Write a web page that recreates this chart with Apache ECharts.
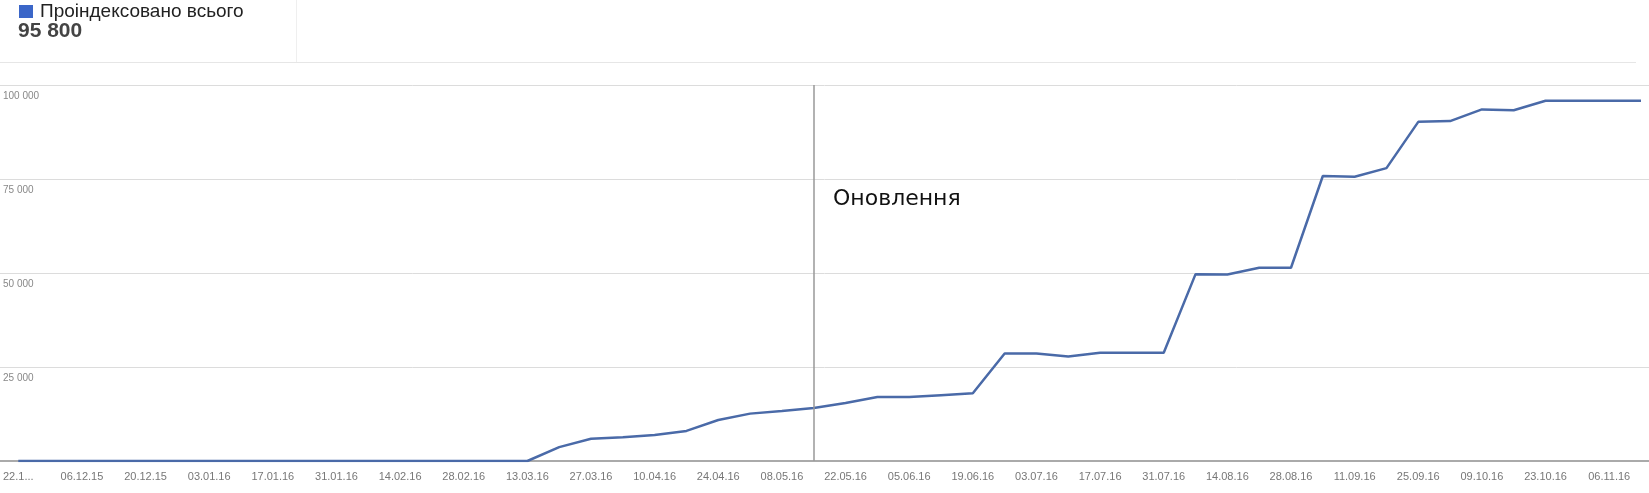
<!DOCTYPE html>
<html lang="uk">
<head>
  <meta charset="utf-8">
  <title>Проіндексовано всього</title>
  <style>
    html, body { margin: 0; padding: 0; background: #fff; }
    #chart1 { width: 1649px; height: 493px; }
  </style>
</head>
<body>
<script src="https://cdn.jsdelivr.net/npm/echarts@6/dist/echarts.min.js"></script>
<div id="chart1"></div>
<script>
  // weekly points, 22.11.15 .. 13.11.16
  var dates = [
    '22.11.15', '29.11.15', '06.12.15', '13.12.15', '20.12.15', '27.12.15',
    '03.01.16', '10.01.16', '17.01.16', '24.01.16', '31.01.16', '07.02.16',
    '14.02.16', '21.02.16', '28.02.16', '06.03.16', '13.03.16', '20.03.16',
    '27.03.16', '03.04.16', '10.04.16', '17.04.16', '24.04.16', '01.05.16',
    '08.05.16', '15.05.16', '22.05.16', '29.05.16', '05.06.16', '12.06.16',
    '19.06.16', '26.06.16', '03.07.16', '10.07.16', '17.07.16', '24.07.16',
    '31.07.16', '07.08.16', '14.08.16', '21.08.16', '28.08.16', '04.09.16',
    '11.09.16', '18.09.16', '25.09.16', '02.10.16', '09.10.16', '16.10.16',
    '23.10.16', '30.10.16', '06.11.16', '13.11.16'
  ];
  var indexed = [
    0, 0, 0, 0, 0, 0, 0, 0, 0, 0, 0, 0, 0, 0, 0, 0,
    0, 3700, 5900, 6300, 6900, 8000, 10900, 12600, 13300, 14100,
    15400, 17000, 17000, 17500, 18000, 28600, 28600, 27800, 28800, 28800,
    28800, 49700, 49600, 51400, 51400, 75800, 75600, 77900, 90200, 90400,
    93500, 93300, 95800, 95800, 95800, 95800
  ];
  var yTicks = [0, 25000, 50000, 75000, 100000];
  var updateDate = '15.05.16';
  var seriesName = 'Проіндексовано всього';
  var totalText = '95 800';

  function fmtNum(v) {
    return String(v).replace(/\B(?=(\d{3})+(?!\d))/g, ' ');
  }

  var chart1 = echarts.init(document.getElementById('chart1'));

  var option = {
    animation: false,
    textStyle: { fontFamily: 'Arial, "Liberation Sans", sans-serif' },
    title: {
      text: totalText,
      left: 18,
      top: 21,
      padding: 0,
      textStyle: { fontSize: 21, fontWeight: 'bold', color: '#444' }
    },
    legend: {
      left: 19,
      top: 2,
      padding: 0,
      itemWidth: 14,
      itemHeight: 13,
      icon: 'rect',
      selectedMode: false,
      textStyle: { fontSize: 19, color: '#222', padding: [0, 0, 0, 2] },
      data: [{ name: seriesName, itemStyle: { color: '#3b66c8' } }]
    },
    graphic: [
      { type: 'line', shape: { x1: 0, y1: 62.5, x2: 1636, y2: 62.5 }, style: { stroke: '#e6e6e6', lineWidth: 1 } },
      { type: 'line', shape: { x1: 296.5, y1: 0, x2: 296.5, y2: 62 }, style: { stroke: '#efefef', lineWidth: 1 } },
      {
        type: 'text', left: 833, top: 188,
        style: { text: 'Оновлення', fontSize: 22, fontFamily: '"DejaVu Sans", sans-serif', fill: '#111' }
      }
    ],
    grid: [
      { left: 14, right: 8, top: 85, bottom: 32 },
      { left: 0, right: 0, top: 85, bottom: 32 }
    ],
    xAxis: [
      {
        type: 'category',
        gridIndex: 0,
        data: dates,
        boundaryGap: false,
        axisLine: { show: false },
        axisTick: { show: false },
        axisLabel: {
          interval: 1,
          margin: 10,
          fontSize: 11,
          color: '#777',
          formatter: function (val, idx) {
            return idx === 0 ? val.slice(0, 4) + '...' : val;
          }
        }
      },
      {
        type: 'value',
        gridIndex: 1,
        min: 0,
        max: 1,
        axisLine: { show: true, lineStyle: { color: '#aaa', width: 2 } },
        axisTick: { show: false },
        axisLabel: { show: false },
        splitLine: { show: false }
      }
    ],
    yAxis: [
      {
        type: 'value',
        gridIndex: 0,
        min: yTicks[0],
        max: yTicks[yTicks.length - 1],
        interval: 25000,
        show: false
      },
      {
        type: 'value',
        gridIndex: 1,
        min: yTicks[0],
        max: yTicks[yTicks.length - 1],
        interval: 25000,
        axisLine: { show: false },
        axisTick: { show: false },
        splitLine: { lineStyle: { color: '#dcdcdc', width: 1 } },
        axisLabel: {
          inside: true,
          margin: 3,
          fontSize: 10,
          color: '#888',
          verticalAlign: 'top',
          padding: [6, 0, 0, 0],
          formatter: function (v) { return v === 0 ? '' : fmtNum(v); }
        }
      }
    ],
    series: [
      {
        name: seriesName,
        type: 'line',
        xAxisIndex: 0,
        yAxisIndex: 0,
        data: indexed,
        showSymbol: false,
        lineStyle: { color: '#4a6aa8', width: 2.5 },
        itemStyle: { color: '#4a6aa8' },
        markLine: {
          silent: true,
          symbol: 'none',
          label: { show: false },
          lineStyle: { color: '#999', width: 1.5, type: 'solid' },
          data: [{ xAxis: updateDate }]
        }
      }
    ]
  };
  chart1.setOption(option);

  window.addEventListener('resize', function () {
    setTimeout(function () { chart1.resize(); }, 200);
  });
</script>
</body>
</html>
